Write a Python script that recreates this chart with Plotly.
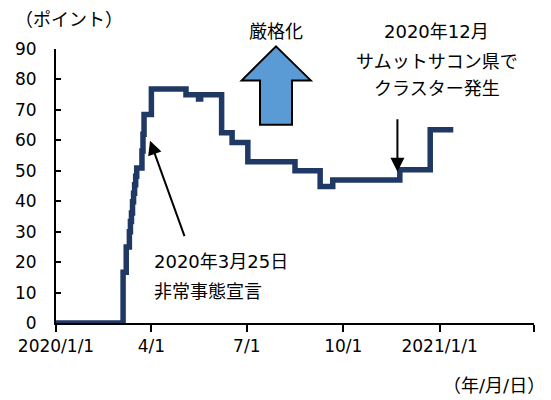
import plotly.graph_objects as go

# step points of the index (change dates and values)
dates = ["2020-01-01", "2020-03-05", "2020-03-08", "2020-03-11", "2020-03-12",
         "2020-03-13", "2020-03-14", "2020-03-15", "2020-03-16", "2020-03-17",
         "2020-03-18", "2020-03-23", "2020-03-24", "2020-03-25", "2020-04-01",
         "2020-05-04", "2020-05-16", "2020-05-18", "2020-06-07", "2020-06-17",
         "2020-07-02", "2020-08-16", "2020-09-09", "2020-09-21", "2020-11-24",
         "2020-12-23", "2021-01-14"]
values = [0, 16.67, 25.0, 30.0, 33.3,
          36.1, 39.8, 42.6, 45.4, 48.2,
          50.9, 56.5, 62.0, 68.5, 76.85,
          75.0, 73.6, 75.0, 62.5, 59.3,
          53.0, 50.0, 44.8, 47.0, 50.3,
          63.5, 63.5]

x_tickvals = ["2020-01-01", "2020-04-01", "2020-07-01", "2020-10-01", "2021-01-01", "2021-04-01"]
x_ticktext = ["2020/1/1", "4/1", "7/1", "10/1", "2021/1/1", ""]
y_tickvals = [0, 10, 20, 30, 40, 50, 60, 70, 80, 90]

FONT = "DejaVu Sans, Noto Sans CJK JP, sans-serif"
NAVY = "#203864"

fig = go.Figure()
fig.add_trace(go.Scatter(
    x=dates, y=values,
    mode="lines",
    line=dict(color=NAVY, width=5.5, shape="hv"),
    cliponaxis=False,
    showlegend=False,
    hoverinfo="skip"
))

# big "up" arrow (decoration)
fig.add_shape(
    type="path", xref="paper", yref="paper",
    path="M 0.4603 1.0095 L 0.5329 0.8854 L 0.4937 0.8854 L 0.4937 0.7237 "
         "L 0.4268 0.7237 L 0.4268 0.8854 L 0.3885 0.8854 Z",
    fillcolor="#5B9BD5", line=dict(color="black", width=2), layer="above"
)

txt = dict(size=18, color="black", family=FONT)
annotations = [
    dict(text="（ポイント）", x=-0.09, y=1.106, xanchor="left", yanchor="middle"),
    dict(text="厳格化", x=0.4603, y=1.064, xanchor="center", yanchor="middle"),
    dict(text="2020年12月", x=0.797, y=1.064, xanchor="center", yanchor="middle"),
    dict(text="サムットサコン県で", x=0.797, y=0.955, xanchor="center", yanchor="middle"),
    dict(text="クラスター発生", x=0.797, y=0.855, xanchor="center", yanchor="middle"),
    dict(text="2020年3月25日", x=0.2008, y=0.224, xanchor="left", yanchor="middle"),
    dict(text="非常事態宣言", x=0.2008, y=0.114, xanchor="left", yanchor="middle"),
    dict(text="（年/月/日）", x=1.027, y=-0.229, xanchor="right", yanchor="middle"),
]
for a in annotations:
    fig.add_annotation(xref="paper", yref="paper", showarrow=False, font=txt, **a)

# pointer arrows
fig.add_annotation(x="2020-03-30 17:00", y=59.9, xref="x", yref="y", text="",
                   showarrow=True, ax=35, ay=97, arrowhead=2, arrowsize=1.4,
                   arrowwidth=2, arrowcolor="black")
fig.add_annotation(x="2020-11-21 17:00", y=49.7, xref="x", yref="y", text="",
                   showarrow=True, ax=0, ay=-54, arrowhead=2, arrowsize=1.4,
                   arrowwidth=2, arrowcolor="black")

fig.update_xaxes(
    range=["2020-01-01", "2021-04-01"], type="date",
    tickvals=x_tickvals, ticktext=x_ticktext,
    ticks="outside", ticklen=7, tickwidth=2, tickcolor="black",
    showline=True, linecolor="black", linewidth=2,
    showgrid=False, zeroline=False, layer="below traces", automargin=False,
    tickfont=dict(size=17, color="black", family=FONT)
)
fig.update_yaxes(
    range=[0, 90], tickvals=y_tickvals,
    ticks="inside", ticklen=5, tickwidth=2, tickcolor="black",
    showline=True, linecolor="black", linewidth=2,
    showgrid=False, zeroline=False, layer="below traces", automargin=False,
    ticklabelstandoff=14,
    tickfont=dict(size=17, color="black", family=FONT)
)
# page body has an 8px margin, so the figure is a bit smaller than the window
fig.update_layout(
    width=543, height=392,
    margin=dict(l=48, r=17, t=41, b=77),
    paper_bgcolor="white", plot_bgcolor="white",
    font=dict(family=FONT, color="black")
)

fig.write_html("out.html")
